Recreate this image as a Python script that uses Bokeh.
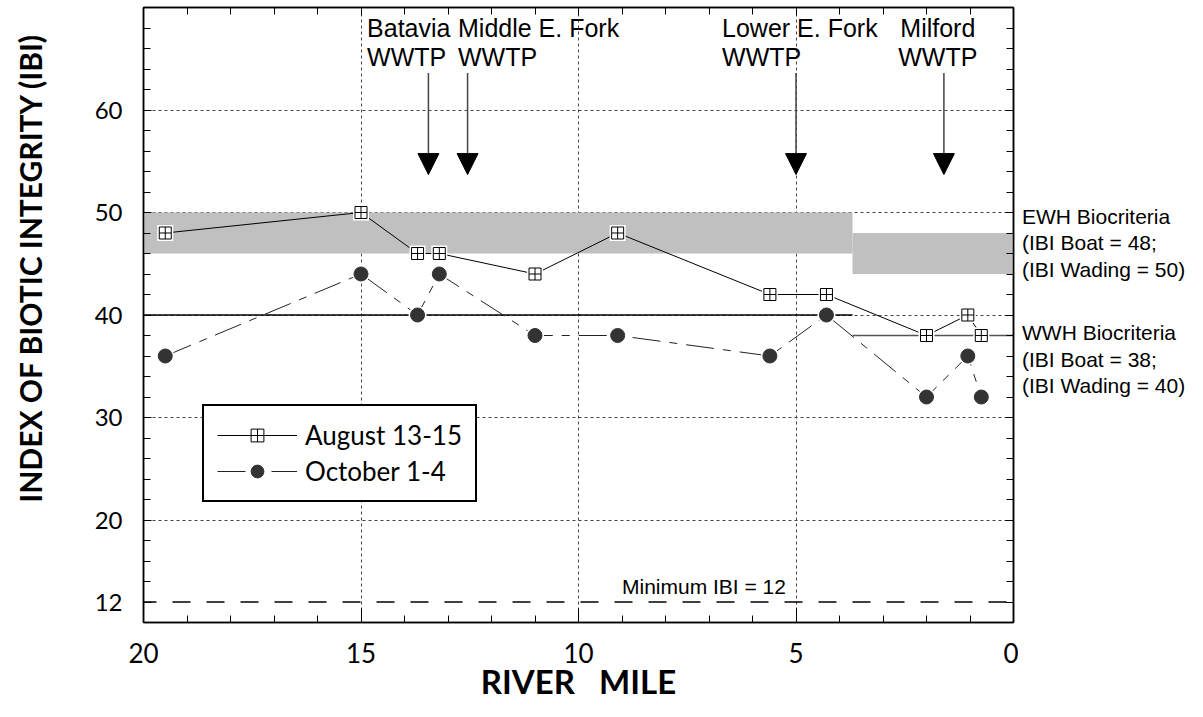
import math
from bokeh.plotting import figure
from bokeh.layouts import row
from bokeh.models import (Range1d, LinearAxis, FixedTicker, Label, Arrow, NormalHead,
                          Legend, LegendItem)
from bokeh.embed import file_html
from bokeh.resources import INLINE

# ---------------- data ----------------
river_mile = [19.5, 15.0, 13.7, 13.2, 11.0, 9.1, 5.6, 4.3, 2.0, 1.05, 0.74]
ibi_august = [48, 50, 46, 46, 44, 48, 42, 42, 38, 40, 38]
ibi_october = [36, 44, 40, 44, 38, 38, 36, 40, 32, 36, 32]

wwtp_mile = [13.45, 12.55, 5.0, 1.6]
wwtp_line1 = ["Batavia", "Middle E. Fork", "Lower E. Fork", "Milford"]
wwtp_line2 = ["WWTP", "WWTP", "WWTP", "WWTP"]

ewh_wading = 50
ewh_boat = 48
wwh_wading = 40
wwh_boat = 38
band_depth = 4
wading_boat_boundary = 3.7
minimum_ibi = 12

x_ticks = [0, 5, 10, 15, 20]
x_minor = list(range(0, 21))
y_ticks = [12, 20, 30, 40, 50, 60]
y_minor = list(range(10, 71, 2))
x_grid = [5, 10, 15]
y_grid = [20, 30, 40, 50, 60]

AX_FONT = "Lato"
ANN_FONT = "Liberation Sans"
FRAME_H = 615
TOP = 7
BOTTOM = 80
BASE_SHIFT = 0.93   # baseline correction for labels (data units, raises text)

y_range = Range1d(10, 70)

p = figure(frame_width=870, frame_height=FRAME_H,
           x_range=Range1d(20, 0), y_range=y_range,
           output_backend="svg", toolbar_location=None,
           min_border_left=83, min_border_right=5,
           min_border_top=TOP, min_border_bottom=BOTTOM)
p.background_fill_color = "white"
p.border_fill_color = "white"
p.outline_line_color = "black"
p.outline_line_width = 1.5

# grids
p.xgrid.ticker = FixedTicker(ticks=x_grid)
p.ygrid.ticker = FixedTicker(ticks=y_grid)
for g in (p.xgrid[0], p.ygrid[0]):
    g.grid_line_color = "#444444"
    g.grid_line_dash = "3 3"
    g.grid_line_width = 1

def style_axis(ax, ticker, major_in, minor_in, show_labels, font_size="24px", standoff=20):
    ax.ticker = ticker
    ax.axis_line_color = "black"
    ax.axis_line_width = 1.5
    ax.major_tick_in = major_in
    ax.major_tick_out = 0
    ax.minor_tick_in = minor_in
    ax.minor_tick_out = 0
    ax.major_tick_line_color = "black"
    ax.minor_tick_line_color = "black"
    ax.major_tick_line_width = 1
    ax.minor_tick_line_width = 1
    if show_labels:
        ax.major_label_text_font = AX_FONT
        ax.major_label_text_font_size = font_size
        ax.major_label_text_color = "black"
        ax.major_label_standoff = standoff
    else:
        ax.major_label_overrides = {t: "" for t in ticker.ticks}
        ax.major_label_text_font_size = "1px"
        ax.major_label_standoff = 0

xax = p.xaxis[0]
style_axis(xax, FixedTicker(ticks=x_ticks, minor_ticks=x_minor), 14, 7, True, "26px", 20)
xax.axis_label = "RIVER\u00a0\u00a0\u00a0MILE"
xax.axis_label_text_font = AX_FONT
xax.axis_label_text_font_style = "bold"
xax.axis_label_text_font_size = "33px"
xax.axis_label_text_color = "black"
xax.axis_label_standoff = -5

yax = p.yaxis[0]
style_axis(yax, FixedTicker(ticks=y_ticks, minor_ticks=y_minor), 8, 7, True, "24px", 21)

top_ax = LinearAxis()
style_axis(top_ax, FixedTicker(ticks=x_ticks, minor_ticks=x_minor), 8, 7, False)
p.add_layout(top_ax, "above")
right_ax = LinearAxis()
style_axis(right_ax, FixedTicker(ticks=y_ticks, minor_ticks=y_minor), 8, 7, False)
p.add_layout(right_ax, "right")

# criteria bands and lines
p.quad(left=[20, wading_boat_boundary], right=[wading_boat_boundary, 0],
       bottom=[ewh_wading - band_depth, ewh_boat - band_depth],
       top=[ewh_wading, ewh_boat], fill_color="#c0c0c0", line_color=None)
p.segment(x0=[20], y0=[wwh_wading], x1=[wading_boat_boundary], y1=[wwh_wading],
          line_color="black", line_width=1.5)
p.segment(x0=[wading_boat_boundary], y0=[wwh_boat], x1=[0], y1=[wwh_boat],
          line_color="#555555", line_width=1.5)
p.segment(x0=[20], y0=[minimum_ibi], x1=[0], y1=[minimum_ibi],
          line_color="black", line_width=1.5, line_dash="18 16", line_dash_offset=5)

# series
aug_line = p.line(river_mile, ibi_august, line_color="black", line_width=1)
oct_line = p.line(river_mile, ibi_october, line_color="#222222", line_width=1,
                  line_dash="28 9 8 9")
aug_halo = p.scatter(river_mile, ibi_august, marker="square", size=16,
                     fill_color="white", line_color=None)
oct_halo = p.scatter(river_mile, ibi_october, marker="circle", size=18,
                     fill_color="white", line_color=None)
aug_mark = p.scatter(river_mile, ibi_august, marker="square_cross", size=12,
                     fill_color="white", line_color="black", line_width=1)
oct_mark = p.scatter(river_mile, ibi_october, marker="circle", size=14,
                     fill_color="#333333", line_color="#333333")

legend = Legend(items=[LegendItem(label="August 13-15", renderers=[aug_line, aug_mark]),
                       LegendItem(label="October 1-4", renderers=[oct_line, oct_halo, oct_mark])],
                location=(59, 120))
legend.padding = 13
legend.spacing = 4
legend.margin = 0
legend.glyph_width = 80
legend.glyph_height = 32
legend.label_standoff = 8
legend.label_text_font = AX_FONT
legend.label_text_font_size = "26px"
legend.label_text_color = "black"
legend.border_line_color = "black"
legend.border_line_alpha = 1
legend.border_line_width = 2.5
legend.background_fill_color = "white"
legend.background_fill_alpha = 1
p.add_layout(legend)

# WWTP arrows and labels
arrow_top, arrow_tip = 63.6, 53.7
for m in wwtp_mile:
    p.add_layout(Arrow(end=NormalHead(size=21, fill_color="black", line_color="black", line_width=1),
                       x_start=m, y_start=arrow_top, x_end=m, y_end=arrow_tip,
                       line_color="#444444", line_width=1.5))

label_x = [14.86, 12.77, 6.70, 1.74]
label_align = ["left", "left", "left", "center"]
for lx, la, t1, t2 in zip(label_x, label_align, wwtp_line1, wwtp_line2):
    p.add_layout(Label(x=lx, y=67.11 + BASE_SHIFT, text=t1, text_align=la, text_baseline="alphabetic",
                       text_font=ANN_FONT, text_font_size="25px", text_color="black"))
    p.add_layout(Label(x=lx, y=64.28 + BASE_SHIFT, text=t2, text_align=la, text_baseline="alphabetic",
                       text_font=ANN_FONT, text_font_size="25px", text_color="black"))

p.add_layout(Label(x=9.0, y=12.59 + BASE_SHIFT, text="Minimum IBI = %d" % minimum_ibi,
                   text_align="left", text_baseline="alphabetic", text_font=ANN_FONT,
                   text_font_size="21px", text_color="black"))

# ---------- left strip: y-axis title ----------
LW = 60
lf = figure(frame_width=LW, frame_height=FRAME_H, x_range=Range1d(0, LW), y_range=y_range,
            x_axis_type=None, y_axis_type=None, output_backend="svg", toolbar_location=None,
            min_border_left=0, min_border_right=0, min_border_top=TOP, min_border_bottom=BOTTOM)
lf.outline_line_color = None
lf.add_layout(Label(x=29, y=44.6, text="INDEX OF BIOTIC INTEGRITY (IBI)", angle=math.pi / 2,
                    text_align="center", text_baseline="middle", text_font=AX_FONT,
                    text_font_style="bold", text_font_size="30px", text_color="black"))

# ---------- right strip: criteria text ----------
RW = 180
rf = figure(frame_width=RW, frame_height=FRAME_H, x_range=Range1d(0, RW), y_range=y_range,
            x_axis_type=None, y_axis_type=None, output_backend="svg", toolbar_location=None,
            min_border_left=0, min_border_right=0, min_border_top=TOP, min_border_bottom=BOTTOM)
rf.outline_line_color = None
right_lines = ["EWH Biocriteria", "(IBI Boat = %d;" % ewh_boat, "(IBI Wading = %d)" % ewh_wading,
               "WWH Biocriteria", "(IBI Boat = %d;" % wwh_boat, "(IBI Wading = %d)" % wwh_wading]
right_y = [48.72, 46.13, 43.54, 37.32, 34.74, 32.15]
for t, yy in zip(right_lines, right_y):
    rf.add_layout(Label(x=3.5, y=yy + BASE_SHIFT, text=t, text_align="left", text_baseline="alphabetic",
                        text_font=ANN_FONT, text_font_size="21px", text_color="black"))

layout = row(lf, p, rf)
open("out.html", "w").write(file_html(layout, INLINE))
